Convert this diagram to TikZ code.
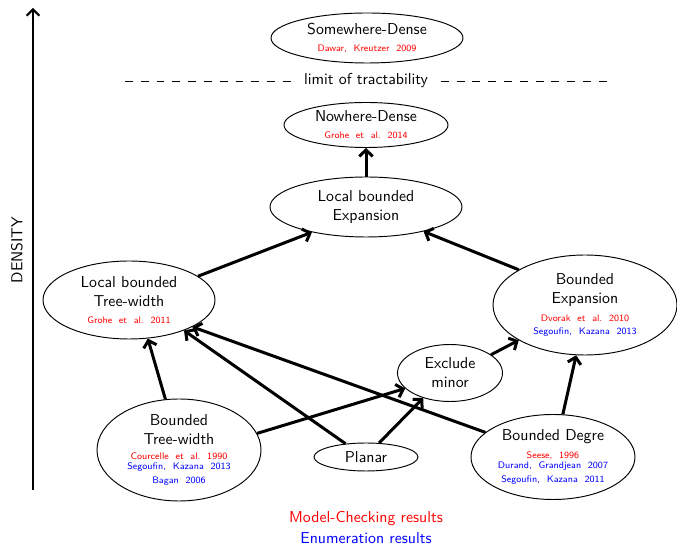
\documentclass[tikz,border=0pt]{standalone}
\usetikzlibrary{shapes.geometric,arrows.meta}
\renewcommand{\familydefault}{\sfdefault}
\newcommand\mcr[1]{{\color{red}\fontsize{6}{7}\selectfont #1}}
\newcommand\enr[1]{{\color{blue}\fontsize{6}{7}\selectfont #1}}
\begin{document}
\begin{tikzpicture}[x=0.633pt,y=-0.633pt,
  every node/.style={font=\sffamily},
  ell/.style 2 args={ellipse,draw,line width=0.6pt,minimum width=#1*0.633pt,minimum height=#2*0.633pt,inner sep=0pt,align=center},
  conn/.style={line width=1.9pt,-{Straight Barb[length=4pt,width=8.5pt]}},
  axis/.style={line width=1.3pt,-{Straight Barb[length=4pt,width=8pt]}},
  txt/.style={inner sep=0pt,align=center}]
\useasboundingbox (0,0) rectangle (677,545);
% nodes
\node[ell={192}{50}] (sd) at (367,38) {Somewhere-Dense\\[-1.2pt]\mcr{Dawar,\ \ Kreutzer\ \ 2009}};
\node[ell={164}{45}] (nd) at (366,125) {Nowhere-Dense\\[-1.2pt]\mcr{Grohe\ \ et\ \ al.\ \ 2014}};
\node[ell={192}{60}] (lbe) at (366,207) {Local bounded\\Expansion};
\node[ell={172}{78}] (lbtw) at (129,300) {Local bounded\\Tree-width\\[-1.2pt]\mcr{Grohe\ \ et\ \ al.\ \ 2011}};
\node[ell={184}{100}] (be) at (585,305) {Bounded\\Expansion\\[-0.6pt]\mcr{Dvorak\ \ et\ \ al.\ \ 2010}\\[-3.8pt]\enr{Segoufin,\ \ Kazana\ \ 2013}};
\node[ell={105}{57}] (em) at (450,373) {Exclude\\minor};
\node[ell={164}{102}] (btw) at (179,450) {Bounded\\Tree-width\\[-1.9pt]\mcr{Courcelle\ \ et\ \ al.\ \ 1990}\\[-5.7pt]\enr{Segoufin,\ \ Kazana\ \ 2013}\\[-3.1pt]\enr{Bagan\ \ 2006}};
\node[ell={104}{28}] (pl) at (366,457) {Planar};
\node[ell={164}{85}] (bd) at (553,457) {Bounded Degre\\[-0.6pt]\mcr{Seese,\ \ 1996}\\[-5.7pt]\enr{Durand,\ \ Grandjean\ \ 2007}\\[-3.1pt]\enr{Segoufin,\ \ Kazana\ \ 2011}};
% limit of tractability
\node[txt] (lim) at (366,81) {limit of tractability};
\coordinate (dl1) at (125,81);
\coordinate (dl2) at (608,81);
\draw[dash pattern=on 5pt off 5pt,line width=0.5pt] (dl1) -- ([xshift=-8pt]lim.west);
\draw[dash pattern=on 5pt off 5pt,line width=0.5pt] ([xshift=8pt]lim.east) -- (dl2);
% density axis
\coordinate (ax0) at (33,490);
\coordinate (ax1) at (33,8);
\draw[axis] (ax0) -- (ax1);
\node[txt,rotate=90] (dens) at (17,250) {DENSITY};
% legend
\node[txt,text=red] (leg1) at (366,519) {Model-Checking results};
\node[txt,text=blue] (leg2) at (366,538) {Enumeration results};
% connectors
\draw[conn] (lbe.90) -- (nd.-90);
\draw[conn] (lbtw.19.6) -- (lbe.-155.3);
\draw[conn] (be.152.8) -- (lbe.-23.1);
\draw[conn] (btw.105.6) -- (lbtw.-64);
\draw[conn] (pl.147) -- (lbtw.-29);
\draw[conn] (bd.160.6) -- (lbtw.-23.5);
\draw[conn] (btw.12.4) -- (em.-161.2);
\draw[conn] (pl.47) -- (em.-137.2);
\draw[conn] (em.24.1) -- (be.-152.4);
\draw[conn] (bd.77.5) -- (be.-100);
\end{tikzpicture}
\end{document}
